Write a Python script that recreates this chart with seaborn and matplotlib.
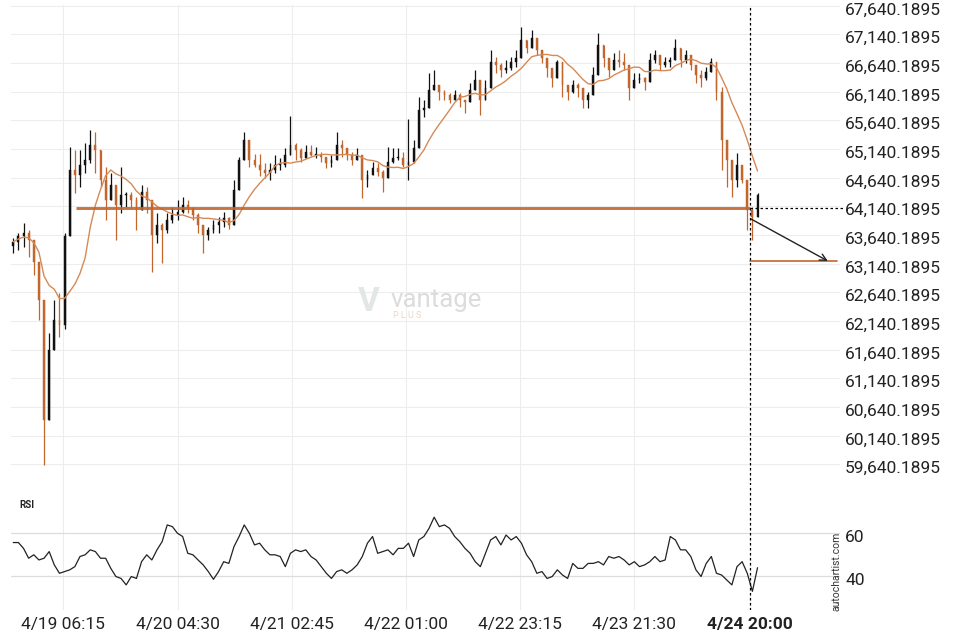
import numpy as np
import pandas as pd
import matplotlib
matplotlib.use("Agg")
import matplotlib.pyplot as plt
import seaborn as sns
from matplotlib.transforms import ScaledTranslation

# ---------------- data (hourly candles) ----------------
first_hour = -3.5          # hours after 4/19 00:00 of the first candle
first_open = 63450

closes = [
    63520, 63620, 63670, 63550, 63170, 62510, 60410, 61630, 62160, 62070,
    63620, 64770, 64690, 64860, 64950, 65210, 65120, 64600, 64250, 64510,
    64160, 64340, 64340, 64250, 64080, 64390, 64250, 63640, 63810, 63730,
    63900, 63990, 64040, 64160, 64110, 63990, 63810, 63640, 63730, 63810,
    63870, 63940, 63810, 64420, 64950, 65300, 64950, 64860, 64770, 64720,
    64770, 64860, 64860, 65040, 65210, 65120, 64980, 65090, 65040, 65040,
    65000, 64900, 64950, 65210, 65160, 65040, 64950, 65040, 64600, 64690,
    64810, 64740, 64630, 64910, 64980, 64980, 64860, 64910, 65160, 65820,
    65850, 66170, 66260, 66130, 66080, 65990, 66080, 65990, 65960, 66170,
    66340, 65990, 66200, 66660, 66600, 66520, 66550, 66660, 66730, 67040,
    66900, 67080, 66870, 66730, 66550, 66380, 66660, 66260, 66130, 66260,
    66200, 65990, 66080, 66430, 66950, 66730, 66520, 66690, 66660, 66600,
    66200, 66340, 66380, 66310, 66690, 66780, 66600, 66660, 66690, 66900,
    66690, 66780, 66600, 66430, 66380, 66480, 66660, 66130, 65300, 64950,
    64600, 64860, 64600, 64080, 63950, 64330,
]
highs = [
    63590, 63680, 63850, 63730, 63430, 63080, 62510, 61930, 62510, 62630,
    63670, 65170, 65120, 65120, 65240, 65470, 65440, 65120, 64830, 64720,
    64480, 64830, 64390, 64390, 64300, 64510, 64480, 64250, 64020, 63850,
    64020, 64130, 64250, 64300, 64250, 64130, 64020, 63780, 63780, 63900,
    63950, 64040, 63950, 64600, 65000, 65440, 65120, 65060, 65060, 64890,
    64890, 65030, 64980, 65150, 65720, 65240, 65150, 65210, 65210, 65180,
    65090, 65000, 65030, 65440, 65300, 65150, 65090, 65150, 64890, 64770,
    64920, 64890, 64770, 65180, 65150, 65150, 65090, 65660, 65300, 66050,
    65990, 66470, 66520, 66220, 66170, 66120, 66170, 66120, 65990, 66290,
    66520, 66220, 66340, 66870, 66740, 66640, 66690, 66740, 66870, 67270,
    67040, 67210, 67040, 66870, 66690, 66520, 66690, 66340, 66220, 66340,
    66290, 66120, 66130, 66570, 67160, 66920, 66690, 66810, 66870, 66810,
    66400, 66470, 66470, 66400, 66810, 66870, 66740, 66740, 66740, 67060,
    66740, 66870, 66690, 66570, 66520, 66570, 66730, 66400, 66220, 65070,
    64770, 65070, 64830, 64550, 64130, 64370,
]
lows = [
    63330, 63380, 63430, 63260, 62940, 62160, 59630, 60590, 61930, 61860,
    62000, 64250, 64370, 64480, 64720, 64900, 64720, 64480, 63900, 64250,
    63550, 64020, 64130, 64110, 63730, 64250, 64020, 62990, 63500, 63150,
    63670, 63850, 63900, 64020, 64020, 63900, 63670, 63330, 63550, 63670,
    63670, 63780, 63750, 63940, 64570, 65120, 64830, 64830, 64660, 64630,
    64600, 64720, 64780, 64830, 65120, 64950, 64920, 65010, 65010, 64980,
    64920, 64810, 64830, 65120, 65000, 64950, 64860, 64950, 64280, 64480,
    64720, 64660, 64390, 64770, 64890, 64950, 64830, 64600, 64890, 65520,
    65700, 66050, 66220, 65990, 65990, 65940, 65990, 65870, 65770, 65990,
    66220, 65730, 66050, 66470, 66470, 66400, 66470, 66520, 66570, 66920,
    66810, 66990, 66780, 66640, 66400, 66220, 66520, 66050, 65990, 66120,
    66050, 65850, 65850, 66220, 66570, 66570, 66400, 66570, 66570, 66520,
    65990, 66220, 66290, 66170, 66470, 66640, 66520, 66570, 66570, 66740,
    66570, 66640, 66520, 66290, 66220, 66340, 66520, 65990, 64770, 64480,
    64300, 64480, 64550, 63730, 63550, 64020,
]
rsi = [
    55.7, 55.7, 53.0, 48.4, 50.0, 47.6, 48.4, 51.5, 45.3, 41.4,
    42.2, 43.0, 44.5, 49.2, 50.0, 52.3, 51.5, 48.4, 48.4, 43.7,
    39.9, 39.0, 36.0, 39.9, 39.0, 46.8, 50.0, 47.6, 52.3, 56.1,
    63.9, 63.1, 60.0, 58.5, 50.7, 50.0, 47.6, 45.3, 42.2, 38.6,
    42.2, 46.8, 46.0, 53.8, 58.5, 63.9, 60.0, 54.6, 55.4, 52.3,
    50.0, 50.0, 49.2, 44.5, 50.7, 52.3, 51.5, 52.3, 49.2, 47.6,
    44.5, 41.4, 39.0, 42.2, 43.0, 41.4, 43.0, 45.3, 49.2, 55.4,
    58.5, 50.7, 51.5, 52.3, 50.0, 53.0, 53.0, 55.4, 49.2, 56.9,
    58.5, 62.3, 67.5, 63.1, 63.9, 62.3, 58.5, 56.1, 53.0, 50.7,
    46.8, 44.5, 50.7, 56.9, 58.5, 54.6, 59.2, 56.9, 58.5, 55.4,
    50.0, 46.8, 41.4, 42.2, 39.0, 39.9, 43.0, 40.6, 39.0, 46.0,
    43.7, 43.7, 46.0, 46.0, 46.8, 45.3, 49.2, 48.4, 49.2, 47.6,
    45.3, 46.8, 44.5, 45.3, 46.8, 49.2, 46.8, 47.6, 58.5, 56.9,
    52.3, 52.3, 49.2, 43.0, 39.9, 46.0, 49.2, 41.4, 40.6, 38.3,
    36.0, 44.5, 46.8, 41.4, 33.0, 44.0,
]
ma_window = 9

xtick_hours = [6.25, 28.5, 50.75, 73.0, 95.25, 117.5, 140.0]
xtick_labels = ["4/19 06:15", "4/20 04:30", "4/21 02:45", "4/22 01:00",
                "4/22 23:15", "4/23 21:30", "4/24 20:00"]
price_ticks = [59640.1895 + 500 * k for k in range(17)]
rsi_ticks = [40, 60]

support_level = 64105
support_start_hour = 8.7
signal_hour = 140.0
arrow_start = (140.2, 63920)
arrow_end = (155.2, 63186)
target_level = 63186
target_end_hour = 156.9
dotted_end_hour = 158.1

# ---------------- frame ----------------
df = pd.DataFrame({"close": closes, "high": highs, "low": lows, "rsi": rsi})
df["hour"] = first_hour + np.arange(len(df))
df["open"] = df["close"].shift(1).fillna(first_open)
df["high"] = df[["high", "open", "close"]].max(axis=1)
df["low"] = df[["low", "open", "close"]].min(axis=1)
df["ma"] = df["close"].rolling(ma_window, min_periods=1).mean()

ORANGE = "#c2662d"
MA_COL = "#d58a56"
GRID = "#ededed"
TXT = "#222222"

sns.set_theme(style="white")
plt.rcParams["font.family"] = ["Roboto", "DejaVu Sans"]

W, H = 960, 640
fig = plt.figure(figsize=(9.6, 6.4), dpi=100)


def rect(l, t, r, b):
    return [l / W, 1 - b / H, (r - l) / W, (b - t) / H]


ax = fig.add_axes(rect(11, 5, 840, 485))
axr = fig.add_axes(rect(11, 485, 840, 610), sharex=ax)

x_left = 6.25 - (63.3 - 11) / 5.133
x_right = 6.25 + (840 - 63.3) / 5.133
p_top = 67738.5 - 17.442 * 5
p_bot = 67738.5 - 17.442 * 485
r_top = 60 + (533.3 - 485) / 2.15
r_bot = 40 - (610 - 576.3) / 2.15

# ---------------- main panel ----------------
for s in ax.spines.values():
    s.set_visible(False)
for s in axr.spines.values():
    s.set_visible(False)

ax.set_xlim(x_left, x_right)
ax.set_ylim(p_bot, p_top)
ax.set_yticks(price_ticks)
ax.set_yticklabels([f"{v:,.4f}" for v in price_ticks])
ax.yaxis.tick_right()
ax.tick_params(axis="y", length=0, pad=3.6, labelsize=12.5, labelcolor=TXT)
ax.tick_params(axis="x", length=0, labelbottom=False)
ax.set_xticks(xtick_hours)
ax.grid(True, color=GRID, lw=0.8)
ax.set_axisbelow(True)
off = ScaledTranslation(0, -2 / 72, fig.dpi_scale_trans)
for lab in ax.get_yticklabels():
    lab.set_transform(lab.get_transform() + off)

up = df["close"] >= df["open"]
cols = np.where(up, "#111111", ORANGE)
ax.vlines(df["hour"], df["low"], df["high"], colors=cols, lw=0.9, zorder=3)
body_lo = np.minimum(df["open"], df["close"])
body_h = np.maximum(np.abs(df["close"] - df["open"]), 15)
ax.bar(df["hour"], body_h, bottom=body_lo, width=0.36, color=cols,
       edgecolor=cols, lw=0.3, zorder=3)

sns.lineplot(data=df, x="hour", y="ma", ax=ax, color=MA_COL, lw=1.0,
             zorder=4, legend=False)
ax.set_xlabel("")
ax.set_ylabel("")

ax.plot([support_start_hour, signal_hour], [support_level, support_level],
        color=ORANGE, lw=2.1, alpha=0.9, zorder=5, solid_capstyle="butt")
ax.plot([signal_hour, dotted_end_hour], [support_level, support_level],
        color="black", lw=0.9, ls=(0, (2, 2)), zorder=5, clip_on=False)
ax.plot([signal_hour, target_end_hour], [target_level, target_level],
        color=ORANGE, lw=1.2, zorder=5, clip_on=False)
ax.annotate("", xy=arrow_end, xytext=arrow_start,
            arrowprops=dict(arrowstyle="->", color="#222222", lw=1.0,
                            shrinkA=0, shrinkB=0, mutation_scale=12),
            zorder=6, annotation_clip=False)
ax.axvline(signal_hour, color="black", lw=0.9, ls=(0, (2, 2)), zorder=6)

# ---------------- RSI panel ----------------
sns.lineplot(data=df, x="hour", y="rsi", ax=axr, color="#222222", lw=0.9,
             legend=False)
axr.set_xlabel("")
axr.set_ylabel("")
axr.set_ylim(r_bot, r_top)
axr.set_yticks(rsi_ticks)
axr.yaxis.tick_right()
axr.tick_params(axis="y", length=0, pad=3.6, labelsize=12.5, labelcolor=TXT)
for lab in axr.get_yticklabels():
    lab.set_transform(lab.get_transform() + off)
axr.set_xticks(xtick_hours)
axr.set_xticklabels(xtick_labels)
axr.tick_params(axis="x", length=0, pad=5, labelsize=12.5, labelcolor=TXT)
axr.get_xticklabels()[-1].set_fontweight("bold")
axr.grid(True, axis="x", color=GRID, lw=0.8)
axr.grid(True, axis="y", color="#dddddd", lw=0.9)
axr.set_axisbelow(True)
axr.axvline(signal_hour, color="black", lw=0.9, ls=(0, (2, 2)), zorder=6)

fig.text(19 / W, 1 - 505 / H, "RSI", fontsize=7, fontweight="bold",
         color=TXT, va="center", ha="left")
fig.text(837 / W, 1 - 571 / H, "autochartist.com", fontsize=7.5,
         rotation=90, color="#333333", ha="center", va="center")

# watermark
fig.text(358 / W, 1 - 311 / H, "V", fontsize=24, fontweight="bold",
         color="#e3e6e6", ha="left", va="baseline")
fig.text(391 / W, 1 - 307 / H, "vantage", fontsize=18.5, color="#dcdcdc",
         ha="left", va="baseline")
fig.text(393 / W, 1 - 318 / H, "P L U S", fontsize=6.5, color="#f0d4c0",
         ha="left", va="baseline")

fig.savefig("out.png", dpi=100, facecolor="white")
